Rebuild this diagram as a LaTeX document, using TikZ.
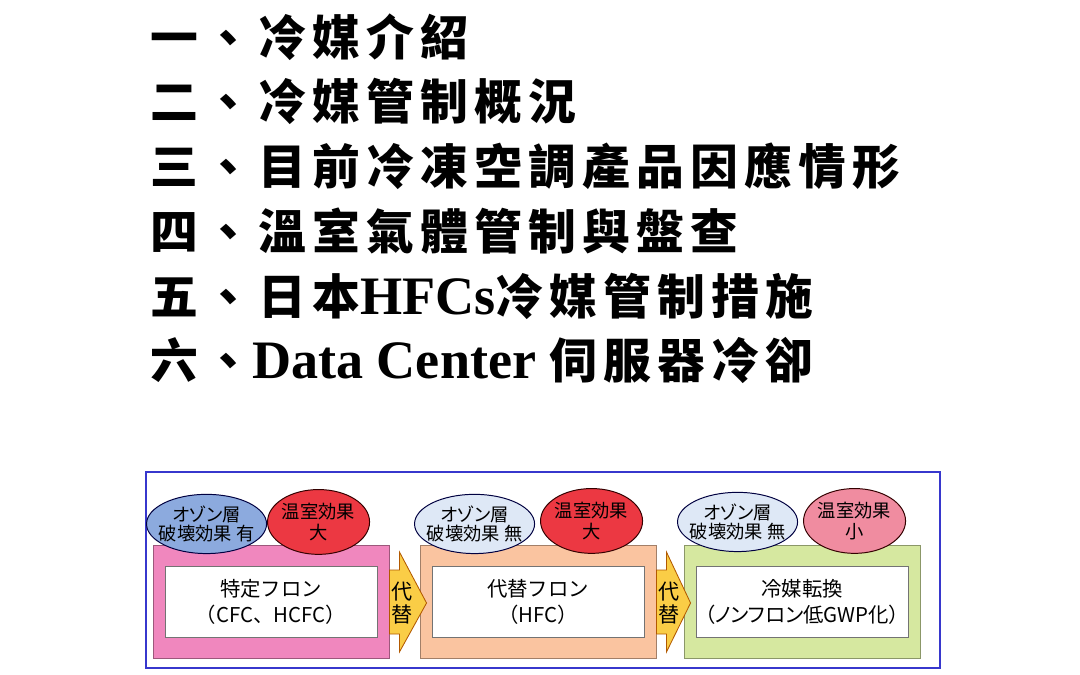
\documentclass[tikz,border=0pt]{standalone}
\usepackage{fontspec}
\usepackage{xcolor}
\usetikzlibrary{shapes.geometric,calc}

\setmainfont{Liberation Serif}
\newfontfamily\tcfont[LetterSpace=13]{Noto Sans CJK TC}
\newfontfamily\jpfont{Noto Sans CJK JP}
\newfontfamily\jpprop[RawFeature=+palt]{Noto Sans CJK JP}

\definecolor{framblue}{RGB}{55,55,205}
\definecolor{cfcpink}{RGB}{240,135,190}
\definecolor{hfcpeach}{RGB}{250,196,160}
\definecolor{newgreen}{RGB}{214,232,160}
\definecolor{ozblue}{RGB}{140,170,222}
\definecolor{ozpale}{RGB}{222,232,246}
\definecolor{ghred}{RGB}{236,56,66}
\definecolor{ghpink}{RGB}{240,140,160}
\definecolor{substyellow}{RGB}{250,205,70}

\newcommand{\titlecjk}{\tcfont\bfseries\fontsize{34}{40}\selectfont}
\newcommand{\titlelat}{\rmfamily\bfseries\fontsize{38.5}{40}\selectfont}

\begin{document}
\begin{tikzpicture}[x=0.025cm,y=-0.025cm,
	titleline/.style={anchor=base west,inner sep=0pt},
	panel/.style={draw=#1!65!black,fill=#1,line width=0.6pt,minimum width=5.9cm,minimum height=2.83cm,inner sep=0pt},
	innerbox/.style={draw=black!55,fill=white,line width=0.6pt,minimum width=5.3cm,minimum height=1.78cm,
		inner sep=0pt,align=center,font=\jpfont\fontsize{14.5}{18}\selectfont},
	ozone/.style={ellipse,draw=black!75!blue,fill=#1,line width=0.7pt,minimum width=3cm,minimum height=1.48cm,
		inner xsep=-20pt,inner ysep=-8pt,align=center,font=\jpprop\fontsize{13}{13.5}\selectfont},
	greenhouse/.style={ellipse,draw=black!80!red,fill=#1,line width=0.7pt,minimum width=2.55cm,minimum height=1.62cm,
		inner xsep=-20pt,inner ysep=-8pt,align=center,font=\jpfont\fontsize{13}{15.5}\selectfont},
	subst/.style={draw=orange!70!black,fill=substyellow,line width=0.6pt},
	substlabel/.style={inner sep=0pt,align=center,font=\jpfont\fontsize{15}{16.5}\selectfont}]
	
	\useasboundingbox (0,0) rectangle (1080,675);
	
	% contents
	\node[titleline] (t1) at (150,56) {\titlecjk 一、冷媒介紹};
	\node[titleline] (t2) at (150,120) {\titlecjk 二、冷媒管制概況};
	\node[titleline] (t3) at (150,185) {\titlecjk 三、目前冷凍空調產品因應情形};
	\node[titleline] (t4) at (150,250) {\titlecjk 四、溫室氣體管制與盤查};
	\node[titleline] (t5) at (150,315) {\titlecjk 五、日本{\titlelat HFCs}冷媒管制措施};
	\node[titleline] (t6) at (150,379) {\titlecjk 六、{\titlelat Data Center }伺服器冷卻};
	
	% refrigerant transition
	\draw[framblue,line width=1.2pt] (146,472) rectangle (940,668);
	
	\node[panel=cfcpink] (p1) at (271,602) {};
	\node[panel=hfcpeach] (p2) at (538,602) {};
	\node[panel=newgreen] (p3) at (802,602) {};
	
	\node[innerbox] (cfc) at (p1.center) {特定フロン\\（CFC、HCFC）};
	\node[innerbox] (hfc) at (p2.center) {代替フロン\\（HFC）};
	\node[innerbox] (low) at (p3.center) {冷媒転換\\{\jpprop（ノンフロン低GWP化）}};
	
	% arrows between the panels
	\draw[subst] ($(p1.east)+(0,-32)$) -- ++(10,0) -- ++(0,-18) -- ($(p2.west)+(7,1)$)
		-- ($(p1.east)+(10,50)$) -- ++(0,-18) -- ($(p1.east)+(0,32)$) -- cycle;
	\draw[subst] ($(p2.east)+(0,-32)$) -- ++(10,0) -- ++(0,-18) -- ($(p3.west)+(7,1)$)
		-- ($(p2.east)+(10,50)$) -- ++(0,-18) -- ($(p2.east)+(0,32)$) -- cycle;
	\node[substlabel] (s1) at ($(p1.east)+(13,1)$) {代\\替};
	\node[substlabel] (s2) at ($(p2.east)+(13,1)$) {代\\替};
	
	\node[ozone=ozblue] (o1) at ($(p1.north west)+(54,-21)$) {オゾン層\\破壊効果 有};
	\node[greenhouse=ghred] (g1) at ($(p1.north west)+(166,-23)$) {温室効果\\大};
	\node[ozone=ozpale] (o2) at ($(p2.north west)+(55,-21)$) {オゾン層\\破壊効果 無};
	\node[greenhouse=ghred] (g2) at ($(p2.north west)+(172,-24)$) {温室効果\\大};
	\node[ozone=ozpale] (o3) at ($(p3.north west)+(54,-23)$) {オゾン層\\破壊効果 無};
	\node[greenhouse=ghpink] (g3) at ($(p3.north west)+(171,-24)$) {温室効果\\小};
	
\end{tikzpicture}
\end{document}
